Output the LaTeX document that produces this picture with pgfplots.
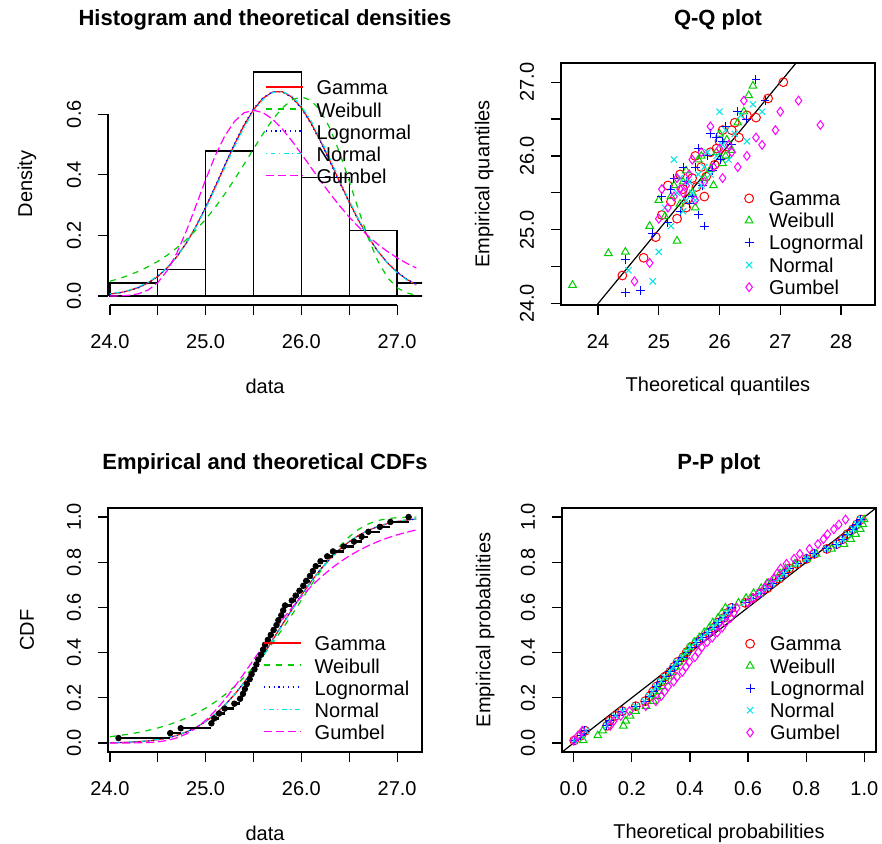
\documentclass[border=0pt]{standalone}
\usepackage{fontspec}
\setmainfont{Liberation Sans}
\usepackage{pgfplots}
\usepackage{pgfplotstable}
\pgfplotsset{compat=1.18}

\definecolor{Rred}{HTML}{FF0000}
\definecolor{Rgreen}{HTML}{00CD00}
\definecolor{Rblue}{HTML}{0000FF}
\definecolor{Rcyan}{HTML}{00E5E5}
\definecolor{Rmag}{HTML}{FF00FF}

% theoretical densities
\pgfplotstableread{
x gam wei lno nor gum
24.0 0.0065 0.0488 0.0059 0.0075 0.0001
24.1 0.0110 0.0580 0.0103 0.0123 0.0006
24.2 0.0180 0.0690 0.0172 0.0196 0.0024
24.3 0.0284 0.0817 0.0275 0.0303 0.0076
24.4 0.0436 0.0969 0.0427 0.0456 0.0200
24.5 0.0649 0.1144 0.0640 0.0667 0.0443
24.6 0.0934 0.1351 0.0927 0.0947 0.0845
24.7 0.1301 0.1590 0.1298 0.1306 0.1424
24.8 0.1758 0.1863 0.1761 0.1751 0.2158
24.9 0.2301 0.2179 0.2312 0.2280 0.2990
25.0 0.2923 0.2531 0.2942 0.2885 0.3840
25.1 0.3601 0.2929 0.3627 0.3548 0.4630
25.2 0.4304 0.3366 0.4338 0.4240 0.5283
25.3 0.4995 0.3841 0.5030 0.4924 0.5758
25.4 0.5625 0.4343 0.5659 0.5555 0.6045
25.5 0.6150 0.4854 0.6179 0.6090 0.6131
25.6 0.6529 0.5358 0.6550 0.6487 0.6048
25.7 0.6734 0.5820 0.6743 0.6715 0.5835
25.8 0.6745 0.6206 0.6741 0.6753 0.5512
25.9 0.6567 0.6472 0.6551 0.6600 0.5122
26.0 0.6214 0.6570 0.6187 0.6267 0.4690
26.1 0.5716 0.6459 0.5683 0.5783 0.4243
26.2 0.5111 0.6113 0.5077 0.5184 0.3800
26.3 0.4449 0.5525 0.4415 0.4517 0.3375
26.4 0.3767 0.4729 0.3736 0.3824 0.2975
26.5 0.3102 0.3793 0.3080 0.3146 0.2605
26.6 0.2486 0.2815 0.2472 0.2514 0.2272
26.7 0.1940 0.1902 0.1934 0.1952 0.1970
26.8 0.1473 0.1148 0.1474 0.1473 0.1702
26.9 0.1091 0.0607 0.1096 0.1080 0.1467
27.0 0.0787 0.0274 0.0795 0.0770 0.1260
27.1 0.0552 0.0102 0.0562 0.0533 0.1080
27.2 0.0377 0.0030 0.0387 0.0358 0.0925
}\dens

% theoretical CDFs
\pgfplotstableread{
x gam wei lno nor gum
24.0 0.0011 0.0277 0.0010 0.0014 0.0000
24.1 0.0018 0.0330 0.0016 0.0023 0.0000
24.2 0.0033 0.0394 0.0030 0.0039 0.0002
24.3 0.0057 0.0469 0.0053 0.0064 0.0006
24.4 0.0092 0.0558 0.0087 0.0101 0.0019
24.5 0.0146 0.0663 0.0141 0.0157 0.0050
24.6 0.0225 0.0788 0.0218 0.0237 0.0113
24.7 0.0336 0.0935 0.0329 0.0348 0.0225
24.8 0.0489 0.1107 0.0482 0.0501 0.0403
24.9 0.0689 0.1309 0.0683 0.0701 0.0660
25.0 0.0950 0.1544 0.0946 0.0959 0.1002
25.1 0.1275 0.1817 0.1272 0.1280 0.1426
25.2 0.1671 0.2132 0.1671 0.1670 0.1922
25.3 0.2136 0.2491 0.2140 0.2128 0.2476
25.4 0.2668 0.2901 0.2676 0.2653 0.3070
25.5 0.3256 0.3360 0.3266 0.3235 0.3679
25.6 0.3894 0.3871 0.3908 0.3867 0.4289
25.7 0.4557 0.4430 0.4572 0.4527 0.4884
25.8 0.5234 0.5033 0.5249 0.5203 0.5453
25.9 0.5899 0.5667 0.5913 0.5871 0.5985
26.0 0.6541 0.6321 0.6553 0.6517 0.6475
26.1 0.7137 0.6976 0.7145 0.7119 0.6922
26.2 0.7681 0.7605 0.7686 0.7670 0.7324
26.3 0.8157 0.8190 0.8159 0.8154 0.7683
26.4 0.8570 0.8704 0.8568 0.8572 0.8000
26.5 0.8912 0.9130 0.8908 0.8920 0.8279
26.6 0.9192 0.9460 0.9186 0.9203 0.8522
26.7 0.9413 0.9695 0.9407 0.9425 0.8734
26.8 0.9584 0.9846 0.9577 0.9596 0.8917
26.9 0.9711 0.9932 0.9704 0.9723 0.9076
27.0 0.9803 0.9974 0.9797 0.9815 0.9212
27.1 0.9868 0.9992 0.9863 0.9879 0.9329
27.2 0.9915 0.9998 0.9911 0.9923 0.9429
}\cdf

% empirical CDF
\pgfplotstableread{
x F
24.09 0.0217
24.63 0.0435
24.74 0.0652
25.06 0.0870
25.09 0.1087
25.14 0.1304
25.20 0.1522
25.30 0.1739
25.36 0.1957
25.39 0.2174
25.41 0.2391
25.43 0.2609
25.46 0.2826
25.48 0.3043
25.51 0.3261
25.53 0.3478
25.55 0.3696
25.58 0.3913
25.60 0.4130
25.62 0.4348
25.65 0.4565
25.68 0.4783
25.71 0.5000
25.74 0.5217
25.76 0.5435
25.79 0.5652
25.81 0.5870
25.83 0.6087
25.90 0.6304
25.94 0.6522
25.98 0.6739
26.02 0.6957
26.05 0.7174
26.09 0.7391
26.12 0.7609
26.15 0.7826
26.20 0.8043
26.27 0.8261
26.33 0.8478
26.44 0.8696
26.55 0.8913
26.63 0.9130
26.70 0.9348
26.82 0.9565
26.93 0.9783
27.12 1.0000
}\ecdf

% P-P plot
\pgfplotstableread{
y gam wei lno nor gum
0.011 0.002 0.033 0.002 0.002 0.000
0.033 0.026 0.083 0.025 0.027 0.015
0.054 0.040 0.100 0.039 0.041 0.030
0.076 0.115 0.171 0.114 0.115 0.126
0.098 0.124 0.179 0.124 0.125 0.138
0.120 0.143 0.194 0.143 0.144 0.162
0.141 0.167 0.213 0.167 0.167 0.192
0.163 0.214 0.249 0.214 0.213 0.248
0.185 0.246 0.274 0.246 0.244 0.283
0.207 0.262 0.286 0.262 0.260 0.301
0.228 0.273 0.295 0.274 0.271 0.313
0.250 0.285 0.304 0.285 0.283 0.325
0.272 0.302 0.318 0.303 0.300 0.344
0.293 0.314 0.327 0.315 0.312 0.356
0.315 0.332 0.341 0.333 0.330 0.374
0.337 0.345 0.351 0.346 0.343 0.386
0.359 0.358 0.362 0.359 0.355 0.398
0.380 0.377 0.377 0.378 0.374 0.417
0.402 0.389 0.387 0.391 0.387 0.429
0.424 0.403 0.398 0.404 0.400 0.441
0.446 0.423 0.415 0.424 0.420 0.459
0.467 0.443 0.432 0.444 0.440 0.477
0.489 0.463 0.449 0.464 0.460 0.494
0.511 0.483 0.467 0.484 0.480 0.511
0.533 0.496 0.479 0.498 0.493 0.523
0.554 0.517 0.497 0.518 0.514 0.540
0.576 0.530 0.510 0.532 0.527 0.551
0.598 0.543 0.522 0.545 0.540 0.561
0.620 0.590 0.567 0.591 0.587 0.599
0.641 0.616 0.593 0.617 0.613 0.618
0.663 0.641 0.619 0.643 0.639 0.638
0.685 0.666 0.645 0.667 0.664 0.656
0.707 0.684 0.665 0.685 0.682 0.670
0.728 0.708 0.691 0.709 0.706 0.688
0.750 0.725 0.710 0.725 0.723 0.700
0.772 0.741 0.729 0.742 0.740 0.712
0.793 0.768 0.761 0.769 0.767 0.732
0.815 0.801 0.802 0.802 0.801 0.758
0.837 0.828 0.834 0.828 0.828 0.778
0.859 0.871 0.887 0.870 0.871 0.811
0.880 0.905 0.930 0.905 0.906 0.840
0.902 0.926 0.953 0.925 0.927 0.859
0.924 0.941 0.970 0.941 0.943 0.873
0.946 0.961 0.986 0.960 0.962 0.895
0.967 0.974 0.995 0.973 0.975 0.912
0.989 0.988 0.999 0.987 0.989 0.935
}\pp

\pgfplotsset{
  Rbase/.style={
    scale only axis, width=157pt,
    tick align=outside, major tick length=5pt,
    tick pos=left,
    every tick/.style={black, line width=0.6pt},
    axis line style={black, line width=0.6pt},
    tick label style={font=\fontsize{10}{12}\selectfont},
    label style={font=\fontsize{10}{12}\selectfont},
    xticklabel style={anchor=center, yshift=-13.5pt},
    yticklabel style={xshift=-12pt, rotate=90, anchor=center},
    xlabel style={at={(axis description cs:0.5,-0.335)}, anchor=center},
    every axis title/.style={at={(axis description cs:0.5,1.18)}, anchor=center, font=\bfseries\fontsize{11}{13}\selectfont},
    legend style={draw=none, fill=none, inner sep=0pt, outer sep=0pt,
      font=\fontsize{10}{12}\selectfont, row sep=0pt,
      nodes={inner sep=0pt, text height=7.6pt, text depth=3.5pt}},
    legend cell align=left,
    clip mode=individual,
  },
  Rlineleg/.style={legend image code/.code={\draw[##1] (0pt,2pt) -- (18.5pt,2pt);}},
  Rmarkleg/.style={legend image code/.code={\draw[##1] plot coordinates {(0pt,1.5pt)};}},
  lty2/.style={dash pattern=on 3pt off 3pt},
  lty3/.style={dash pattern=on 0.6pt off 1.8pt},
  lty4/.style={dash pattern=on 0.6pt off 1.8pt on 2.4pt off 1.8pt},
  lty5/.style={dash pattern=on 4.2pt off 1.8pt},
  cur/.style={line width=0.6pt},
  pt/.style={only marks, mark size=2.2pt, line width=0.5pt},
  ptl/.style={mark size=2.2pt, line width=0.5pt},
}

\begin{document}
\begin{tikzpicture}
\useasboundingbox (0,0) rectangle (441pt,421.5pt);

% ---------------- Histogram ----------------
\begin{axis}[Rbase, Rlineleg, at={(54pt,269pt)}, anchor=south west, height=121pt,
  xmin=23.98, xmax=27.26, ymin=-0.0296, ymax=0.769,
  axis x line*=bottom, axis y line*=left, axis line style={draw=none},
  xtick={24,24.5,25,25.5,26,26.5,27}, xticklabels={24.0,,25.0,,26.0,,27.0},
  ytick={0,0.2,0.4,0.6}, yticklabels={0.0,0.2,0.4,0.6},
  title={Histogram and theoretical densities},
  xlabel={data}, ylabel={Density},
  ylabel style={at={(axis description cs:-0.258,0.5)}, anchor=center},
  legend style={at={(axis description cs:0.5,0.931)}, anchor=north west, column sep=6.5pt},
]
\addplot[ybar interval, draw=black, line width=0.7pt, fill=none, forget plot] coordinates {
(24.0,0.0435) (24.5,0.087) (25.0,0.478) (25.5,0.739) (26.0,0.391) (26.5,0.217) (27.0,0.0435) (27.5,0.0435)};
\addplot[Rred, cur, forget plot] table[x=x,y=gam]{\dens};
\addplot[Rgreen, cur, lty2, forget plot] table[x=x,y=wei]{\dens};
\addplot[Rblue, cur, lty3, forget plot] table[x=x,y=lno]{\dens};
\addplot[Rcyan, cur, lty4, forget plot] table[x=x,y=nor]{\dens};
\addplot[Rmag, cur, lty5, forget plot] table[x=x,y=gum]{\dens};
\addlegendimage{Rred, line width=0.8pt}\addlegendentry{Gamma}
\addlegendimage{Rgreen, line width=0.8pt, lty2}\addlegendentry{Weibull}
\addlegendimage{Rblue, line width=0.8pt, lty3}\addlegendentry{Lognormal}
\addlegendimage{Rcyan, line width=0.8pt, lty4}\addlegendentry{Normal}
\addlegendimage{Rmag, line width=0.8pt, lty5}\addlegendentry{Gumbel}
\draw[line width=0.6pt] (axis cs:24,-0.0296) -- (axis cs:27,-0.0296);
\draw[line width=0.6pt] (axis cs:23.98,0) -- (axis cs:23.98,0.6);
\end{axis}

% ---------------- Q-Q plot ----------------
\begin{axis}[Rbase, Rmarkleg, at={(280.5pt,269pt)}, anchor=south west, height=121pt,
  xmin=23.39, xmax=28.56, ymin=23.98, ymax=27.26,
  xtick={24,25,26,27,28}, xticklabels={24,25,26,27,28},
  ytick={24,24.5,25,25.5,26,26.5,27}, yticklabels={24.0,,25.0,,26.0,,27.0},
  title={Q-Q plot},
  xlabel={Theoretical quantiles}, ylabel={Empirical quantiles},
  ylabel style={at={(axis description cs:-0.245,0.5)}, anchor=center},
  legend style={at={(axis description cs:0.585,0.474)}, anchor=north west, column sep=7.8pt},
]
\addplot[black, line width=0.6pt, forget plot] coordinates {(23,23) (28,28)};
\addplot[pt, mark=o, Rred, forget plot] coordinates {
(24.40,24.38) (24.75,24.62) (24.95,24.90) (25.05,25.20) (25.20,25.38) (25.30,25.15) (25.40,25.55) (25.48,25.42)
(25.55,25.70) (25.62,25.58) (25.70,25.85) (25.78,25.72) (25.85,26.05) (25.92,25.88) (26.00,26.20) (26.10,26.02)
(26.20,26.35) (26.32,26.25) (26.45,26.55) (26.60,26.52) (26.80,26.78) (27.05,27.00)
(25.15,25.60) (25.35,25.75) (25.60,26.00) (25.75,25.45) (26.05,26.35) (25.45,25.30) (25.95,26.10) (26.25,26.45)};
\addplot[pt, mark=triangle, Rgreen, forget plot] coordinates {
(23.58,24.25) (24.17,24.68) (24.45,24.70) (24.85,25.05) (25.00,25.40) (25.10,25.18) (25.25,25.60) (25.35,25.35)
(25.45,25.80) (25.55,25.50) (25.65,25.95) (25.75,25.70) (25.85,25.82) (25.95,26.05) (26.05,25.90) (26.12,26.22)
(26.20,26.08) (26.30,26.45) (26.40,26.60) (26.48,26.82) (26.55,26.95) (25.30,24.85) (25.60,25.30)
(25.40,25.65) (25.70,26.00) (26.00,26.30) (25.20,25.45) (25.90,25.60) (26.10,26.00)};
\addplot[pt, mark=+, Rblue, forget plot] coordinates {
(24.45,24.15) (24.70,24.18) (24.45,24.60) (24.90,24.95) (25.05,25.45) (25.15,25.10) (25.25,25.70) (25.35,25.25)
(25.45,25.65) (25.55,25.45) (25.65,26.10) (25.72,25.60) (25.80,26.00) (25.88,25.80) (25.95,26.25) (26.02,25.95)
(26.10,26.40) (26.20,26.15) (26.30,26.60) (26.45,26.50) (26.60,27.04) (26.75,26.75) (25.65,25.20) (25.75,25.05)
(25.20,25.55) (25.40,25.85) (25.60,25.85) (25.85,26.30) (26.05,26.20) (25.50,25.35)};
\addplot[pt, mark=x, Rcyan, forget plot] coordinates {
(24.50,24.45) (24.90,24.30) (25.00,24.70) (25.10,25.30) (25.20,25.05) (25.30,25.50) (25.40,25.25) (25.50,25.65)
(25.60,25.40) (25.70,25.60) (25.75,25.85) (25.85,25.75) (25.95,26.00) (26.05,26.15) (26.15,25.95) (26.25,26.30)
(26.35,26.55) (26.45,26.20) (26.55,26.70) (26.70,26.60) (25.25,25.95) (26.00,26.60)
(25.35,25.70) (25.55,25.50) (25.80,26.05) (26.10,26.35) (25.45,25.40) (25.65,25.75)};
\addplot[pt, mark=diamond, Rmag, forget plot] coordinates {
(24.60,24.30) (24.85,24.55) (25.00,25.15) (25.05,25.55) (25.15,25.30) (25.25,25.45) (25.35,25.55) (25.40,25.50)
(25.50,25.75) (25.60,25.40) (25.70,26.05) (25.85,26.40) (25.90,25.85) (26.05,25.70) (26.15,26.15) (26.30,25.85)
(26.45,26.00) (26.60,26.25) (26.70,26.15) (26.92,26.35) (27.00,26.60) (27.30,26.75) (27.66,26.42) (26.40,26.75)
(25.30,25.70) (25.45,25.60) (25.55,25.95) (25.75,25.65) (26.00,26.10) (26.20,26.05)};
\addlegendimage{ptl, mark=o, Rred}\addlegendentry{Gamma}
\addlegendimage{ptl, mark=triangle, Rgreen}\addlegendentry{Weibull}
\addlegendimage{ptl, mark=+, Rblue}\addlegendentry{Lognormal}
\addlegendimage{ptl, mark=x, Rcyan}\addlegendentry{Normal}
\addlegendimage{ptl, mark=diamond, Rmag}\addlegendentry{Gumbel}
\end{axis}

% ---------------- CDFs ----------------
\begin{axis}[Rbase, Rlineleg, at={(54pt,45.5pt)}, anchor=south west, height=122pt,
  xmin=23.98, xmax=27.26, ymin=-0.04, ymax=1.04,
  xtick={24,24.5,25,25.5,26,26.5,27}, xticklabels={24.0,,25.0,,26.0,,27.0},
  ytick={0,0.2,0.4,0.6,0.8,1}, yticklabels={0.0,0.2,0.4,0.6,0.8,1.0},
  title={Empirical and theoretical CDFs},
  xlabel={data}, ylabel={CDF},
  ylabel style={at={(axis description cs:-0.258,0.5)}, anchor=center},
  legend style={at={(axis description cs:0.494,0.477)}, anchor=north west, column sep=6.5pt},
]
\addplot[Rred, cur, forget plot] table[x=x,y=gam]{\cdf};
\addplot[Rgreen, cur, lty2, forget plot] table[x=x,y=wei]{\cdf};
\addplot[Rblue, cur, lty3, forget plot] table[x=x,y=lno]{\cdf};
\addplot[Rcyan, cur, lty4, forget plot] table[x=x,y=nor]{\cdf};
\addplot[Rmag, cur, lty5, forget plot] table[x=x,y=gum]{\cdf};
\addplot[black, line width=1.2pt, jump mark left, forget plot] table[x=x,y=F]{\ecdf};
\addplot[black, only marks, mark=*, mark size=1.4pt, forget plot] table[x=x,y=F]{\ecdf};
\addlegendimage{Rred, line width=0.8pt}\addlegendentry{Gamma}
\addlegendimage{Rgreen, line width=0.8pt, lty2}\addlegendentry{Weibull}
\addlegendimage{Rblue, line width=0.8pt, lty3}\addlegendentry{Lognormal}
\addlegendimage{Rcyan, line width=0.8pt, lty4}\addlegendentry{Normal}
\addlegendimage{Rmag, line width=0.8pt, lty5}\addlegendentry{Gumbel}
\end{axis}

% ---------------- P-P plot ----------------
\begin{axis}[Rbase, Rmarkleg, at={(281pt,45.5pt)}, anchor=south west, height=122pt,
  xmin=-0.04, xmax=1.04, ymin=-0.04, ymax=1.04,
  xtick={0,0.2,0.4,0.6,0.8,1}, xticklabels={0.0,0.2,0.4,0.6,0.8,1.0},
  ytick={0,0.2,0.4,0.6,0.8,1}, yticklabels={0.0,0.2,0.4,0.6,0.8,1.0},
  title={P-P plot},
  xlabel={Theoretical probabilities}, ylabel={Empirical probabilities},
  ylabel style={at={(axis description cs:-0.245,0.5)}, anchor=center},
  legend style={at={(axis description cs:0.585,0.477)}, anchor=north west, column sep=7.8pt},
]
\addplot[black, line width=0.6pt, forget plot] coordinates {(-0.1,-0.1) (1.1,1.1)};
\addplot[pt, mark=o, Rred, forget plot] table[x=gam,y=y]{\pp};
\addplot[pt, mark=triangle, Rgreen, forget plot] table[x=wei,y=y]{\pp};
\addplot[pt, mark=+, Rblue, forget plot] table[x=lno,y=y]{\pp};
\addplot[pt, mark=x, Rcyan, forget plot] table[x=nor,y=y]{\pp};
\addplot[pt, mark=diamond, Rmag, forget plot] table[x=gum,y=y]{\pp};
\addlegendimage{ptl, mark=o, Rred}\addlegendentry{Gamma}
\addlegendimage{ptl, mark=triangle, Rgreen}\addlegendentry{Weibull}
\addlegendimage{ptl, mark=+, Rblue}\addlegendentry{Lognormal}
\addlegendimage{ptl, mark=x, Rcyan}\addlegendentry{Normal}
\addlegendimage{ptl, mark=diamond, Rmag}\addlegendentry{Gumbel}
\end{axis}
\end{tikzpicture}
\end{document}
